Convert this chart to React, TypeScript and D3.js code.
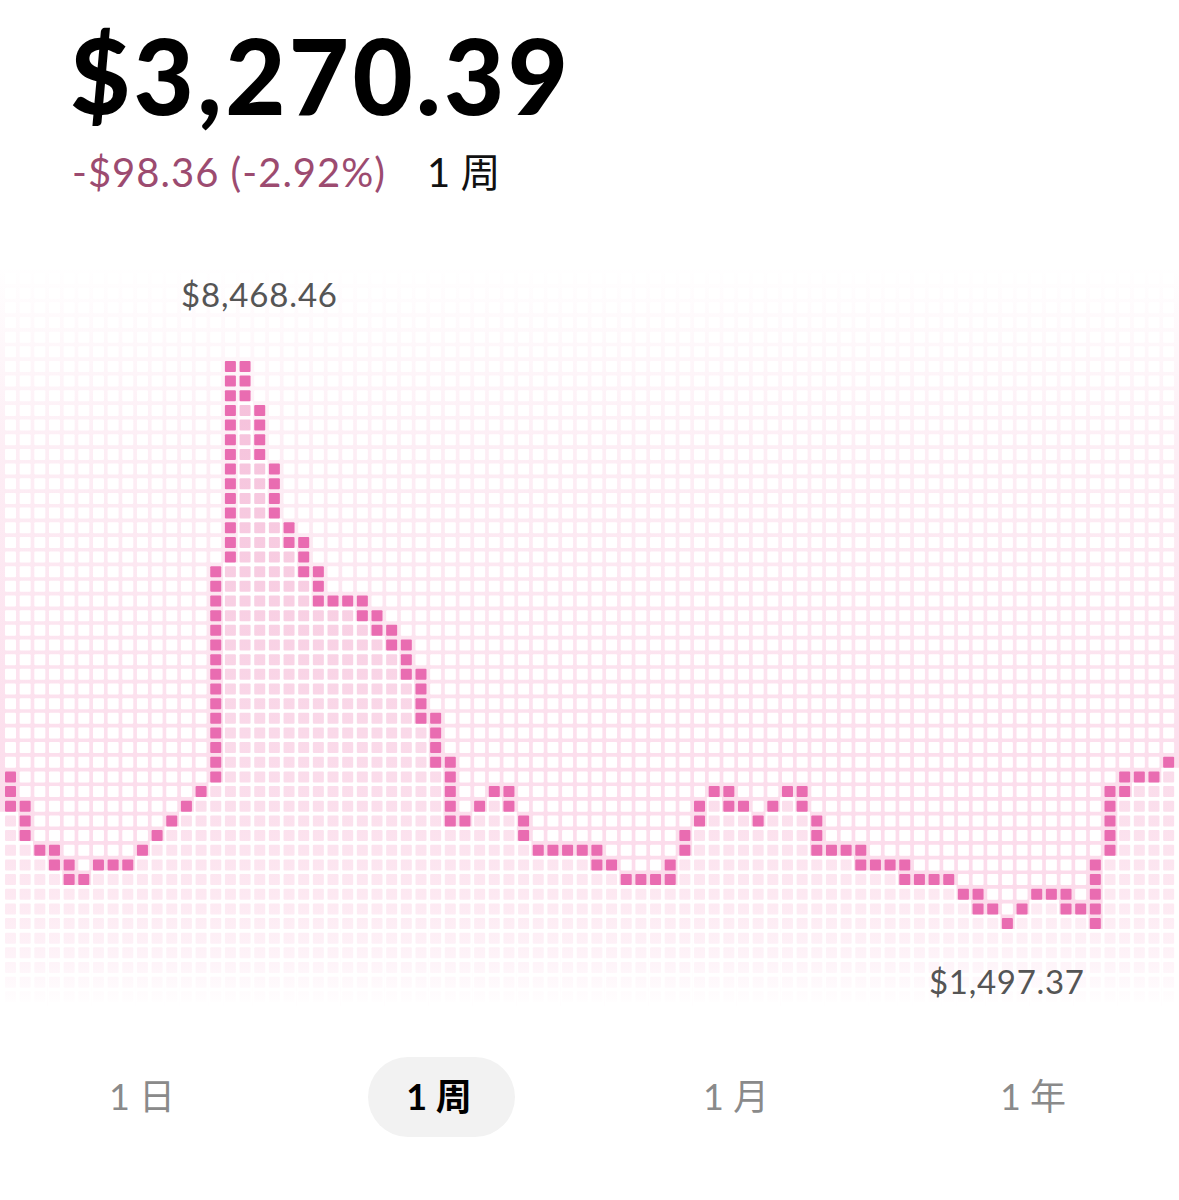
import React from 'react';
import * as d3 from 'd3';

// per-column high / low price of the pixel line (one column = one time bucket)
const highs = [
  3332, 2965, 2415, 2415, 2231, 2048, 2231, 2231, 2231, 2415,
  2598, 2782, 2965, 3148, 5900, 8468, 8468, 7918, 7184, 6450,
  6267, 5900, 5533, 5533, 5533, 5350, 5166, 4983, 4616, 4066,
  3515, 2782, 2965, 3148, 3148, 2782, 2415, 2415, 2415, 2415,
  2415, 2231, 2048, 2048, 2048, 2231, 2598, 2965, 3148, 3148,
  2965, 2782, 2965, 3148, 3148, 2782, 2415, 2415, 2415, 2231,
  2231, 2231, 2048, 2048, 2048, 1864, 1864, 1681, 1497, 1681,
  1864, 1864, 1864, 1681, 2231, 3148, 3332, 3332, 3332, 3515,
];
const lows = [
  2965, 2598, 2415, 2231, 2048, 2048, 2231, 2231, 2231, 2415,
  2598, 2782, 2965, 3148, 3332, 6084, 8100, 7368, 6634, 6267,
  5900, 5533, 5533, 5533, 5350, 5166, 4983, 4616, 4066, 3515,
  2782, 2782, 2965, 3148, 2965, 2598, 2415, 2415, 2415, 2415,
  2231, 2231, 2048, 2048, 2048, 2048, 2415, 2782, 3148, 2965,
  2965, 2782, 2965, 3148, 2965, 2415, 2415, 2415, 2231, 2231,
  2231, 2048, 2048, 2048, 2048, 1864, 1681, 1681, 1497, 1681,
  1864, 1864, 1681, 1681, 1497, 2415, 3148, 3332, 3332, 3515,
];
const maxPrice = 8468.46;
const minPrice = 1497.37;

const headline = '$3,270.39';
const change = '-$98.36 (-2.92%)';
const periodLabel = '1 周';
const peakLabel = '$8,468.46';
const lowLabel = '$1,497.37';
const tabs = ['1 日', '1 周', '1 月', '1 年'];
const activeTab = 1;

const W = 1179;
const H = 1200;
const COLS = highs.length;
const ROWS = 50;
const PITCH = 14.66;
const CELL = 11;
const GAP = PITCH - CELL;
const gridLeft = 5;
const gridTop = 273;

const LINE_PINK = '#e96cb1';
const SANS = 'Lato, "Noto Sans", "Noto Sans CJK SC", sans-serif';

export default function App() {
  const x = d3.scaleLinear().domain([0, COLS]).range([gridLeft, gridLeft + COLS * PITCH]);
  const y = d3.scaleLinear().domain([0, ROWS]).range([gridTop, gridTop + ROWS * PITCH]);
  const row = d3.scaleLinear().domain([minPrice, maxPrice]).range([44, 6]);

  const cols = d3.range(COLS).map((c) => ({
    c,
    top: Math.round(row(highs[c])),
    bottom: Math.round(row(lows[c])),
  }));

  const tabX = d3.scalePoint<number>().domain(d3.range(tabs.length)).range([142, 1033]);

  return (
    <div style={{ position: 'absolute', left: 0, top: 0 }}>
      <svg width={W} height={H} style={{ display: 'block', background: '#fff' }}>
        <defs>
          <linearGradient id="gapGrad" gradientUnits="userSpaceOnUse" x1={0} y1={262} x2={0} y2={1005}>
            <stop offset="0" stopColor="#ffffff" />
            <stop offset="0.25" stopColor="#fdeef5" />
            <stop offset="0.65" stopColor="#fcdfed" />
            <stop offset="1" stopColor="#fcd9ea" />
          </linearGradient>
          <linearGradient id="fillGrad" gradientUnits="userSpaceOnUse" x1={0} y1={360} x2={0} y2={1008}>
            <stop offset="0" stopColor="#f5bfda" />
            <stop offset="0.37" stopColor="#f8cfe3" />
            <stop offset="0.68" stopColor="#fbdeec" />
            <stop offset="0.83" stopColor="#fde9f2" />
            <stop offset="0.93" stopColor="#fef4f9" />
            <stop offset="1" stopColor="#ffffff" />
          </linearGradient>
        </defs>

        {/* pink grid gaps above the line */}
        <rect x={0} y={gridTop - GAP} width={W} height={ROWS * PITCH + GAP} fill="url(#gapGrad)" />

        {/* white gaps under the line */}
        {cols.map((d) => {
          const x0 = d.c === 0 ? 0 : x(d.c) - GAP / 2;
          const x1 = d.c === COLS - 1 ? W : x(d.c + 1) - GAP / 2 + 0.5;
          return (
            <rect
              key={`w${d.c}`}
              x={x0}
              y={y(d.bottom) + CELL}
              width={x1 - x0}
              height={y(ROWS) - y(d.bottom) - CELL + 2}
              fill="#fff"
            />
          );
        })}

        {cols.map((d) =>
          d3.range(ROWS).map((r) => {
            const fill = r < d.top ? '#ffffff' : r <= d.bottom ? LINE_PINK : 'url(#fillGrad)';
            return (
              <rect
                key={`${d.c}-${r}`}
                x={x(d.c)}
                y={y(r)}
                width={CELL}
                height={CELL}
                rx={1}
                fill={fill}
              />
            );
          })
        )}

        {/* header */}
        <text x={70} y={115} fontFamily={SANS} fontWeight={900} fontSize={104} fill="#000"
          textLength={498} lengthAdjust="spacing">
          {headline}
        </text>
        <text x={72} y={187} fontFamily={SANS} fontSize={40} fill="#9c4b70" textLength={313} lengthAdjust="spacing">
          {change}
        </text>
        <text x={427} y={187} fontFamily={SANS} fontSize={40} fill="#111">
          {periodLabel}
        </text>

        {/* extreme labels */}
        <text x={181} y={307} fontFamily={SANS} fontSize={33} fill="#555" textLength={156} lengthAdjust="spacing">
          {peakLabel}
        </text>
        <text x={929} y={994} fontFamily={SANS} fontSize={33} fill="#555" textLength={155} lengthAdjust="spacing">
          {lowLabel}
        </text>

        {/* period tabs */}
        <rect x={368} y={1057} width={147} height={80} rx={40} fill="#f2f2f2" />
        {tabs.map((t, i) => (
          <text
            key={t}
            x={tabX(i)}
            y={1110}
            textAnchor="middle"
            fontFamily={SANS}
            fontSize={36}
            fontWeight={i === activeTab ? 700 : 400}
            fill={i === activeTab ? '#000' : '#8a8a8a'}
          >
            {t}
          </text>
        ))}
      </svg>
    </div>
  );
}
